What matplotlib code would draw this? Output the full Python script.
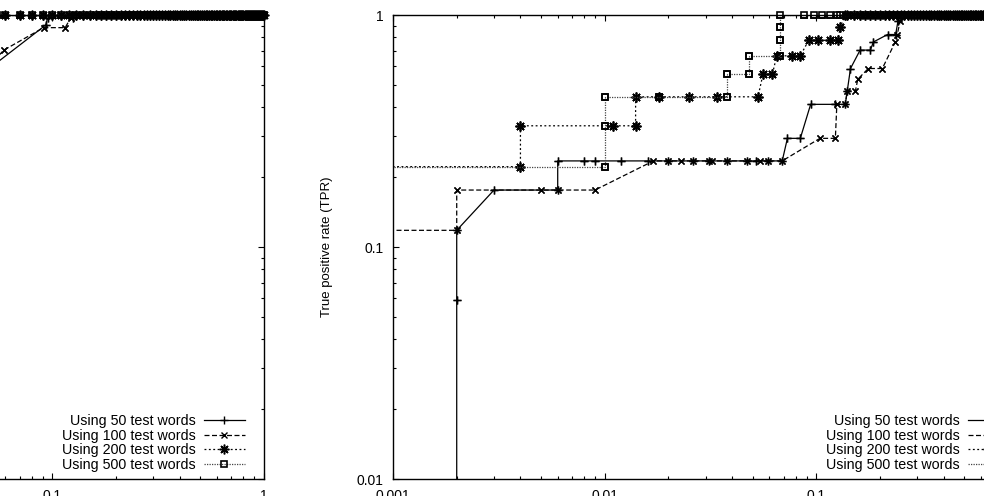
import matplotlib
matplotlib.use("Agg")
import matplotlib.pyplot as plt
from matplotlib import ticker

plt.rcParams["font.family"] = ["Liberation Sans", "DejaVu Sans"]

labels = ["Using 50 test words", "Using 100 test words",
          "Using 200 test words", "Using 500 test words"]

# points that sit on TPR = 1 at the end of every curve
top_fpr = [0.06, 0.07, 0.08, 0.09, 0.10, 0.11, 0.12, 0.13, 0.14, 0.15,
           0.16, 0.17, 0.18, 0.19, 0.20, 0.21, 0.22, 0.23, 0.24, 0.25,
           0.26, 0.27, 0.28, 0.29, 0.30, 0.31, 0.32, 0.33, 0.34, 0.35,
           0.36, 0.37, 0.38, 0.39, 0.40, 0.41, 0.42, 0.43, 0.44, 0.45,
           0.46, 0.47, 0.48, 0.49, 0.50, 0.51, 0.52, 0.53, 0.54, 0.55,
           0.56, 0.57, 0.58, 0.59, 0.60, 0.61, 0.62, 0.63, 0.64, 0.65,
           0.66, 0.67, 0.68, 0.69, 0.70, 0.71, 0.72, 0.73, 0.74, 0.75,
           0.76, 0.77, 0.78, 0.79, 0.80, 0.81, 0.82, 0.83, 0.84, 0.85,
           0.86, 0.87, 0.88, 0.89, 0.90, 0.91, 0.92, 0.93, 0.94, 0.95,
           0.96, 0.97, 0.98, 0.99, 1.0]

# right panel
r_fpr_50 = [0.002, 0.002, 0.002, 0.003, 0.006, 0.006, 0.008, 0.009, 0.012, 0.016,
            0.020, 0.026, 0.031, 0.038, 0.047, 0.052, 0.059, 0.069, 0.073, 0.084,
            0.094, 0.123, 0.137, 0.140, 0.145, 0.161, 0.180, 0.186, 0.217, 0.237,
            0.243, 0.250]
r_tpr_50 = [0.0, 0.059, 0.118, 0.176, 0.176, 0.235, 0.235, 0.235, 0.235, 0.235,
            0.235, 0.235, 0.235, 0.235, 0.235, 0.235, 0.235, 0.235, 0.294, 0.294,
            0.412, 0.412, 0.412, 0.471, 0.588, 0.706, 0.706, 0.765, 0.824, 0.824,
            0.941, 1.0]

r_fpr_100 = [0.0, 0.002, 0.002, 0.005, 0.006, 0.009, 0.017, 0.020, 0.023, 0.026,
             0.031, 0.032, 0.038, 0.047, 0.054, 0.059, 0.069, 0.104, 0.123, 0.125,
             0.137, 0.140, 0.153, 0.157, 0.176, 0.205, 0.236, 0.241, 0.249, 0.256]
r_tpr_100 = [0.118, 0.118, 0.176, 0.176, 0.176, 0.176, 0.235, 0.235, 0.235, 0.235,
             0.235, 0.235, 0.235, 0.235, 0.235, 0.235, 0.235, 0.294, 0.294, 0.412,
             0.412, 0.471, 0.471, 0.529, 0.588, 0.588, 0.765, 0.824, 0.941, 1.0]

r_fpr_200 = [0.0, 0.004, 0.004, 0.011, 0.014, 0.014, 0.018, 0.025, 0.034, 0.053,
             0.056, 0.062, 0.065, 0.077, 0.084, 0.092, 0.102, 0.116, 0.126, 0.130,
             0.137]
r_tpr_200 = [0.222, 0.222, 0.333, 0.333, 0.333, 0.444, 0.444, 0.444, 0.444, 0.444,
             0.556, 0.556, 0.667, 0.667, 0.667, 0.778, 0.778, 0.778, 0.778, 0.889,
             1.0]

r_fpr_500 = [0.0, 0.01, 0.01, 0.01, 0.018, 0.038, 0.038, 0.048, 0.048, 0.067,
             0.067, 0.067, 0.067, 0.087, 0.097, 0.106, 0.116, 0.125]
r_tpr_500 = [0.222, 0.222, 0.333, 0.444, 0.444, 0.444, 0.556, 0.556, 0.667, 0.667,
             0.778, 0.889, 1.0, 1.0, 1.0, 1.0, 1.0, 1.0]

# left panel (only its right end is visible)
l_fpr_50 = [0.04, 0.093, 0.095, 0.125, 0.128]
l_tpr_50 = [0.5, 0.905, 0.97, 0.97, 1.0]
l_fpr_100 = [0.05, 0.059, 0.091, 0.115, 0.122, 0.13]
l_tpr_100 = [0.6, 0.706, 0.882, 0.882, 0.97, 1.0]
l_fpr_200 = [0.045, 0.052]
l_tpr_200 = [1.0, 1.0]
l_fpr_500 = [0.048, 0.055]
l_tpr_500 = [1.0, 1.0]

styles = [
    dict(marker="+", ms=6, mew=1.0, color="black"),
    dict(marker="x", ms=5, mew=1.0, color="black"),
    dict(marker=(8, 2, 0), ms=7, mew=1.1, color="black"),
    dict(marker="s", ms=5, mew=1.2, mfc="none", mec="black", color="#444444"),
]
dashes = ["-", (0, (4, 2)), (0, (1.5, 2)), (0, (1, 1))]


def with_tail(fpr, tpr):
    extra = [f for f in top_fpr if f > fpr[-1]]
    return fpr + extra, tpr + [1.0] * len(extra)


def panel(ax, curves):
    for (fpr, tpr), lab, st, ls in zip(curves, labels, styles, dashes):
        x, y = with_tail(fpr, tpr)
        ax.plot(x, y, lw=0.9, ls=ls, label=lab, **st)
        # markers again, unclipped, so those on TPR = 1 stick out over the frame
        pts = [(a, b) for a, b in zip(x, y) if 0.001 <= a <= 1 and 0.01 <= b <= 1]
        ax.plot([p[0] for p in pts], [p[1] for p in pts], ls="none",
                clip_on=False, **st)
    ax.set_xscale("log", nonpositive="clip")
    ax.set_yscale("log", nonpositive="clip")
    ax.set_xlim(0.001, 1)
    ax.set_ylim(0.01, 1)
    fmt = ticker.FuncFormatter(lambda v, p: "%g" % v)
    ax.xaxis.set_major_formatter(fmt)
    ax.yaxis.set_major_formatter(fmt)
    ax.xaxis.set_minor_formatter(ticker.NullFormatter())
    ax.yaxis.set_minor_formatter(ticker.NullFormatter())
    ax.tick_params(which="both", direction="in", top=True, right=True,
                   labelsize=10, pad=7, width=0.8)
    ax.tick_params(which="major", length=4.5)
    ax.tick_params(which="minor", length=2.2)
    for s in ax.spines.values():
        s.set_linewidth(1.0)
    ax.legend(loc="lower right", bbox_to_anchor=(1 - 19 / 635, 7 / 464),
              frameon=False, markerfirst=False, handlelength=2.9,
              handletextpad=0.55, labelspacing=0.05, borderpad=0,
              borderaxespad=0, numpoints=1, fontsize=10.3)


fig = plt.figure(figsize=(9.84, 4.96), dpi=100)
ax_l = fig.add_axes([-0.37703, 0.034274, 0.64533, 0.93548])
ax_r = fig.add_axes([0.39939, 0.034274, 0.64533, 0.93548])

panel(ax_l, [(l_fpr_50, l_tpr_50), (l_fpr_100, l_tpr_100),
             (l_fpr_200, l_tpr_200), (l_fpr_500, l_tpr_500)])
panel(ax_r, [(r_fpr_50, r_tpr_50), (r_fpr_100, r_tpr_100),
             (r_fpr_200, r_tpr_200), (r_fpr_500, r_tpr_500)])

ax_r.set_ylabel("True positive rate (TPR)", fontsize=9.5)
ax_r.yaxis.set_label_coords(-0.095, 0.5)

fig.savefig("out.png", dpi=100)
